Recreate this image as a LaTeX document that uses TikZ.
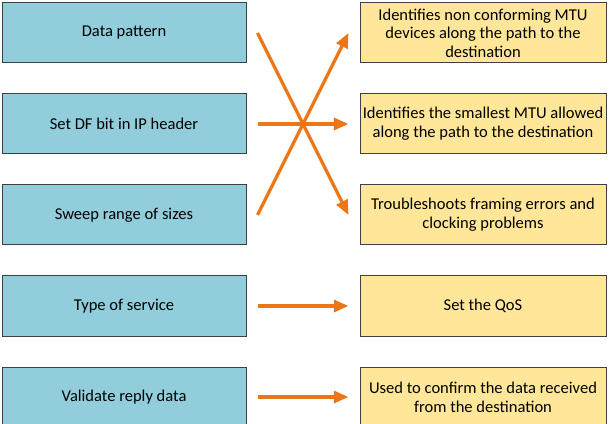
\documentclass[tikz,border=0pt]{standalone}
\usepackage{fontspec}
\setmainfont{Carlito}
\usetikzlibrary{arrows.meta,positioning}

\definecolor{boxblue}{RGB}{146,205,220}
\definecolor{boxyellow}{RGB}{255,230,153}
\definecolor{linkorange}{RGB}{237,118,22}

\begin{document}
\begin{tikzpicture}[
  x=0.75pt, y=-0.75pt,
  node distance=22.5pt and 84.75pt,
  lbox/.style={rectangle, draw=black!75, line width=0.75pt, minimum width=183pt,
               minimum height=45pt, align=center, fill=boxblue, inner sep=0pt,
               font=\fontsize{12.4}{14}\selectfont},
  rbox/.style={rectangle, draw=black!75, line width=0.75pt, minimum width=184.5pt,
               minimum height=45pt, align=center, fill=boxyellow, inner sep=0pt,
               font=\fontsize{12.4}{14}\selectfont},
  link/.style={-{Triangle[length=11pt, width=9pt]}, line width=2.4pt, linkorange},
]
  \useasboundingbox (0,0) rectangle (611,424);

  % Tests
  \node[lbox] (data) at (124,33) {Data pattern};
  \node[lbox, below=of data] (dfbit) {Set DF bit in IP header};
  \node[lbox, below=of dfbit] (sweep) {Sweep range of sizes};
  \node[lbox, below=of sweep] (tos) {Type of service};
  \node[lbox, below=of tos] (validate) {Validate reply data};

  % Purposes
  \node[rbox, right=of data] (nonconf) {Identifies non conforming MTU\\devices along the path to the\\destination};
  \node[rbox, right=of dfbit] (smallest) {Identifies the smallest MTU allowed\\along the path to the destination};
  \node[rbox, right=of sweep] (trouble) {Troubleshoots framing errors and\\clocking problems};
  \node[rbox, right=of tos] (qos) {Set the QoS};
  \node[rbox, right=of validate] (confirm) {Used to confirm the data received\\from the destination};

  % Links
  \draw[link] ([xshift=8.25pt]data.east) -- ([xshift=-8.25pt]trouble.west);
  \draw[link] ([xshift=8.25pt]dfbit.east) -- ([xshift=-8.25pt]smallest.west);
  \draw[link] ([xshift=8.25pt]sweep.east) -- ([xshift=-8.25pt]nonconf.west);
  \draw[link] ([xshift=8.25pt]tos.east) -- ([xshift=-8.25pt]qos.west);
  \draw[link] ([xshift=8.25pt]validate.east) -- ([xshift=-8.25pt]confirm.west);

\end{tikzpicture}
\end{document}
